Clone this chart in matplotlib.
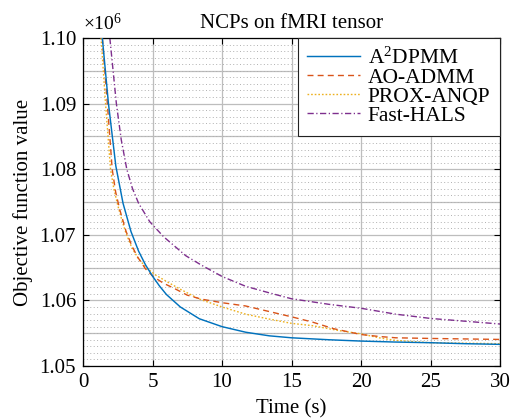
import matplotlib
matplotlib.use("Agg")
import matplotlib.pyplot as plt
from matplotlib.ticker import MultipleLocator, FormatStrFormatter

plt.rcParams['font.family'] = ['Liberation Serif', 'DejaVu Serif']
plt.rcParams['mathtext.fontset'] = 'custom'
plt.rcParams['mathtext.rm'] = 'Liberation Serif'
plt.rcParams['mathtext.it'] = 'Liberation Serif:italic'

# Data (objective value in units of 1e6)
t_a2dpmm = [1.39, 1.83, 2.36, 2.88, 3.45, 4.0, 4.5, 5.0, 5.5, 6.0, 7.0, 8.37, 10, 11.7, 13.4, 15, 17.7, 20, 22.5, 25, 27.5, 30]
v_a2dpmm = [1.100, 1.090, 1.0805, 1.0748, 1.0705, 1.0675, 1.0654, 1.0637, 1.0622, 1.0609, 1.0590, 1.0572, 1.0560, 1.05515, 1.0546, 1.0543, 1.0540, 1.0538, 1.05365, 1.05355, 1.0534, 1.0533]

t_aoadmm = [1.39, 1.75, 2.1, 2.35, 2.65, 3.1, 3.5, 3.9, 4.5, 5.07, 5.8, 6.5, 7.5, 8.5, 10, 11.7, 13.4, 15, 16.5, 18, 20, 21.3, 22.5, 25, 30]
v_aoadmm = [1.100, 1.090, 1.080, 1.0765, 1.0738, 1.0705, 1.0684, 1.0667, 1.0648, 1.0636, 1.0626, 1.0619, 1.0608, 1.0602, 1.05965, 1.05915, 1.0583, 1.0575, 1.0567, 1.0557, 1.0548, 1.0545, 1.0543, 1.0542, 1.05405]

t_proxanqp = [1.30, 1.62, 1.98, 2.22, 2.5, 2.8, 3.1, 3.5, 4.0, 4.6, 5.2, 6.0, 7.0, 8.37, 10, 11.7, 13.4, 15, 16.5, 18.4, 20, 21.3, 22.5, 25, 30]
v_proxanqp = [1.100, 1.090, 1.080, 1.077, 1.0745, 1.0722, 1.0702, 1.0681, 1.0663, 1.0649, 1.0639, 1.0629, 1.0617, 1.0602, 1.0590, 1.0579, 1.05715, 1.0565, 1.05615, 1.0554, 1.0549, 1.0543, 1.0539, 1.05355, 1.0534]

t_fasthals = [1.93, 2.4, 2.75, 3.15, 3.55, 4.0, 4.8, 5.8, 7.4, 8.5, 10, 11.7, 13.4, 15, 17.7, 20, 22.5, 25, 30]
v_fasthals = [1.100, 1.090, 1.0845, 1.0800, 1.0771, 1.0748, 1.0720, 1.0697, 1.0668, 1.0654, 1.06365, 1.06215, 1.06115, 1.06025, 1.0594, 1.0588, 1.0579, 1.05725, 1.0564]

labels = [r'$\mathrm{A}^2$DPMM', 'AO-ADMM', 'PROX-ANQP', 'Fast-HALS']
colors = ['#0072BD', '#D95319', '#EDB120', '#7E2F8E']
mid_grid = [1.055, 1.065, 1.075, 1.085, 1.095]

FS = 15

fig = plt.figure(figsize=(5.14, 4.18), dpi=100)
ax = fig.add_axes([0.1615, 0.1244, 0.8113, 0.7847])

ax.plot(t_a2dpmm, v_a2dpmm, color=colors[0], lw=1.05, label=labels[0], zorder=5)
ax.plot(t_aoadmm, v_aoadmm, color=colors[1], lw=1.0, dashes=(4.3, 3.0), label=labels[1], zorder=4)
ax.plot(t_proxanqp, v_proxanqp, color=colors[2], lw=1.0, dashes=(1.2, 1.4), label=labels[2], zorder=3)
ax.plot(t_fasthals, v_fasthals, color=colors[3], lw=1.0, dashes=(4.5, 1.8, 0.9, 1.8), label=labels[3], zorder=2)

ax.set_xlim(0, 30)
ax.set_ylim(1.05, 1.10)
ax.xaxis.set_major_locator(MultipleLocator(5))
ax.yaxis.set_major_locator(MultipleLocator(0.01))
ax.yaxis.set_minor_locator(MultipleLocator(0.001))
ax.yaxis.set_major_formatter(FormatStrFormatter('%.2f'))

ax.grid(True, which='major', color='#bdbdbd', lw=0.9, zorder=0)
ax.grid(True, which='minor', axis='y', color='#b0b0b0', lw=0.7, linestyle=(0, (1, 2.5)), zorder=0)
for yv in mid_grid:
    ax.axhline(yv, color='#bdbdbd', lw=0.9, zorder=0)
ax.set_axisbelow(True)

ax.tick_params(which='major', direction='in', length=4, width=0.8, top=True, right=True, labelsize=FS, pad=5)
ax.tick_params(which='minor', length=0)
for s in ax.spines.values():
    s.set_color('black')
    s.set_linewidth(0.9)

ax.set_xlabel('Time (s)', fontsize=FS, labelpad=5)
ax.set_ylabel('Objective function value', fontsize=FS, labelpad=5)
ax.set_title('NCPs on fMRI tensor', fontsize=FS, pad=7)
ax.text(0.0, 1.012, r'×10$^6$', transform=ax.transAxes, fontsize=14, ha='left', va='bottom')

leg = ax.legend(loc='upper right', prop={'size': 15.5}, frameon=True, fancybox=False,
                borderaxespad=0.0, handlelength=2.45, handletextpad=0.35,
                labelspacing=-0.05, borderpad=0.45)
leg.get_frame().set_edgecolor('#222222')
leg.get_frame().set_linewidth(0.8)
leg.get_frame().set_alpha(1.0)

fig.savefig('out.png', dpi=100)
